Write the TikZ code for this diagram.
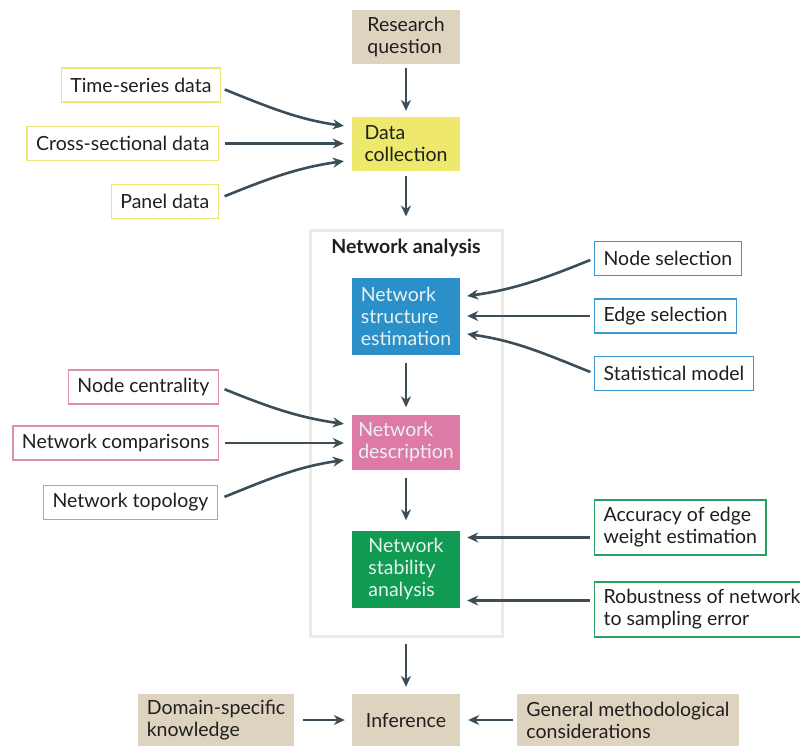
\documentclass[tikz,border=0pt]{standalone}
\usepackage{fontspec}
\setmainfont{Lato}
\usetikzlibrary{arrows.meta}
\definecolor{beige}{RGB}{222,211,191}
\definecolor{yfill}{RGB}{238,233,108}
\definecolor{yline}{RGB}{236,230,120}
\definecolor{bfill}{RGB}{43,143,201}
\definecolor{bline}{RGB}{60,150,208}
\definecolor{pfill}{RGB}{221,123,166}
\definecolor{pline}{RGB}{222,140,178}
\definecolor{gfill}{RGB}{16,154,82}
\definecolor{gline}{RGB}{40,160,96}
\definecolor{arrowc}{RGB}{60,77,88}
\definecolor{framec}{RGB}{238,234,226}
\definecolor{lighttext}{RGB}{232,242,238}
\tikzset{
  every node/.style={font=\fontsize{19.5}{22}\selectfont, text=black!88},
  box/.style={minimum width=108pt, align=left},
  tag/.style={draw, line width=1.2pt, fill=white, minimum height=34pt, inner xsep=9pt, align=left},
  arr/.style={->, line width=2.6pt, draw=arrowc},
}
\begin{document}
\begin{tikzpicture}[x=1pt,y=-1pt,>={Stealth[length=11pt,width=10pt]}]
\useasboundingbox (0,0) rectangle (800,745);
% frame
\node[draw=framec,line width=3pt,minimum width=192pt,minimum height=406pt] (na) at (406,433) {};
\node[font=\fontsize{19.5}{22}\selectfont\bfseries] (nat) at (406,248) {Network analysis};
% main column
\node[box,fill=beige,minimum height=54pt] (rq) at (406,37) {Research\\question};
\node[box,fill=yfill,minimum height=54pt] (dc) at (406,144) {Data\\collection};
\node[box,fill=bfill,minimum height=77pt,text=lighttext] (nse) at (406,316) {Network\\structure\\estimation};
\node[box,fill=pfill,minimum height=55pt,text=lighttext] (nd) at (406,442) {Network\\description};
\node[box,fill=gfill,minimum height=77pt,text=lighttext] (nsa) at (406,569) {Network\\stability\\analysis};
\node[box,fill=beige,minimum height=52pt] (inf) at (406,720) {Inference};
% left tags
\node[tag,draw=yline,anchor=east] (ts) at (221,85) {Time-series data};
\node[tag,draw=yline,anchor=east] (cs) at (219,143.5) {Cross-sectional data};
\node[tag,draw=yline,anchor=east] (pd) at (219,201.5) {Panel data};
\node[tag,draw=pline,anchor=east] (nc) at (219,387) {Node centrality};
\node[tag,draw=pline,anchor=east] (ncmp) at (219,443) {Network comparisons};
\node[tag,draw=pline,anchor=east] (ntop) at (218,502.5) {Network topology};
% right tags
\node[tag,draw=bline,anchor=west] (ns) at (594,258.5) {Node selection};
\node[tag,draw=bline,anchor=west] (es) at (594,316) {Edge selection};
\node[tag,draw=bline,anchor=west] (sm) at (594,373.5) {Statistical model};
\node[tag,draw=gline,anchor=west,minimum height=55pt] (acc) at (594,527.5) {Accuracy of edge\\weight estimation};
\node[tag,draw=gline,anchor=west,minimum height=55pt] (rob) at (594,609.5) {Robustness of network\\to sampling error};
% bottom
\node[fill=beige,minimum height=52pt,inner xsep=9pt,align=left] (dsk) at (216,720) {Domain-specific\\knowledge};
\node[fill=beige,minimum height=52pt,inner xsep=9pt,align=left] (gmc) at (628,720) {General methodological\\considerations};

% vertical arrows
\draw[arr,shorten <=4pt,shorten >=6pt] (rq) -- (dc);
\draw[arr,shorten <=5pt,shorten >=12pt] (dc) -- (na.north);
\draw[arr,shorten <=8pt,shorten >=7pt] (nse) -- (nd);
\draw[arr,shorten <=8pt,shorten >=10pt] (nd) -- (nsa);
\draw[arr,shorten <=6pt,shorten >=7pt] (na.south) -- (inf);
% data inputs
\draw[arr,shorten <=4pt,shorten >=8pt] ([yshift=-3pt]ts.east) to[out=-22,in=172] ([yshift=17pt]dc.west);
\draw[arr,shorten <=6pt,shorten >=8pt] (cs.east) -- (cs.east -| dc.west);
\draw[arr,shorten <=6pt,shorten >=8pt] ([yshift=3pt]pd.east) to[out=22,in=188] ([yshift=-16pt]dc.west);
% estimation inputs
\draw[arr,shorten <=4pt,shorten >=7pt] (ns.west) to[out=202,in=8] ([yshift=19pt]nse.east);
\draw[arr,shorten <=4pt,shorten >=7pt] (es.west) -- (es.west -| nse.east);
\draw[arr,shorten <=4pt,shorten >=7pt] (sm.west) to[out=158,in=-8] ([yshift=-17pt]nse.east);
% description inputs
\draw[arr,shorten <=6pt,shorten >=8pt] (nc.east) to[out=-22,in=172] ([yshift=17pt]nd.west);
\draw[arr,shorten <=6pt,shorten >=8pt] (ncmp.east) -- (ncmp.east -| nd.west);
\draw[arr,shorten <=7pt,shorten >=8pt] ([yshift=3pt]ntop.east) to[out=22,in=188] ([yshift=-17pt]nd.west);
% stability inputs
\draw[arr,shorten <=4pt,shorten >=7pt] ([yshift=31.5pt]nsa.east -| acc.west) -- ([yshift=31.5pt]nsa.east);
\draw[arr,shorten <=4pt,shorten >=7pt] ([yshift=-31.5pt]nsa.east -| rob.west) -- ([yshift=-31.5pt]nsa.east);
% inference inputs
\draw[arr,shorten <=9pt,shorten >=7pt] (dsk) -- (inf);
\draw[arr,shorten <=4pt,shorten >=8pt] (gmc) -- (inf);
\end{tikzpicture}
\end{document}
